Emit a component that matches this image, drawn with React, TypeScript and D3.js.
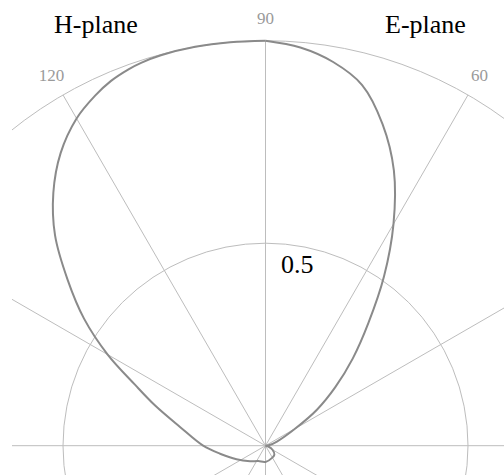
import React from "react";
import * as d3 from "d3";

// Normalised radiation pattern, polar angle in degrees (counter-clockwise from +x)
const ANGLES_E = [0, 10, 20, 30, 35, 40, 45, 50, 55, 60, 65, 70, 75, 80, 85, 90];
const GAIN_E = [0, 0.01, 0.03, 0.085, 0.155, 0.225, 0.305, 0.395, 0.51, 0.632, 0.75, 0.845, 0.922, 0.962, 0.987, 1.0];

const ANGLES_H = [90, 95, 100, 105, 108, 110, 113, 116, 120, 125, 130, 135, 140, 145, 150, 155, 160, 167.5, 180, 190, 205, 225, 245, 270, 300, 315, 330, 345, 360];
const GAIN_H = [1.0, 1.0, 1.0, 0.998, 0.994, 0.989, 0.978, 0.961, 0.933, 0.882, 0.815, 0.735, 0.638, 0.547, 0.45, 0.355, 0.29, 0.217, 0.154, 0.114, 0.079, 0.054, 0.042, 0.04, 0.034, 0.031, 0.02, 0.008, 0];

const RINGS = [0.5, 1.0];
const SPOKES = d3.range(0, 360, 30);
const SPOKE_LABELS = SPOKES.map((a) => String(a));

const W = 504;
const H = 475;
const CX = 265.5;
const CY = 445.7;
const R = 405;

const font = "'Liberation Serif', 'Times New Roman', serif";

export default function App() {
  const r = d3.scaleLinear().domain([0, 1]).range([0, R]);
  const toRad = (deg: number) => Math.PI / 2 - (deg * Math.PI) / 180;

  const radial = d3
    .lineRadial<[number, number]>()
    .angle((d) => toRad(d[0]))
    .radius((d) => r(d[1]))
    .curve(d3.curveCatmullRom.alpha(0.5));

  const ePath = radial(ANGLES_E.map((a, i) => [a, GAIN_E[i]]));
  const hPath = radial(ANGLES_H.map((a, i) => [a, GAIN_H[i]]));

  const polar = (deg: number, rad: number) => {
    const t = (deg * Math.PI) / 180;
    return [CX + rad * Math.cos(t), CY - rad * Math.sin(t)];
  };

  // angle labels that land inside the drawing area
  const labels = SPOKES.map((a, i) => {
    const [x, y] = polar(a, r(1) + 23);
    return { a, x, y, text: SPOKE_LABELS[i] };
  }).filter((l) => l.x > 20 && l.x < W - 20 && l.y > 10 && l.y < H - 10);

  return (
    <svg
      width={W}
      height={H}
      style={{ position: "fixed", left: 0, top: 0, background: "#fff" }}
    >
      <defs>
        <clipPath id="plotClip">
          <rect x={12} y={0} width={W - 12} height={H} />
        </clipPath>
      </defs>
      <g clipPath="url(#plotClip)">
        {RINGS.map((v) => (
          <circle key={v} cx={CX} cy={CY} r={r(v)} fill="none" stroke="#bdbdbd" strokeWidth={1} />
        ))}
        {SPOKES.map((a) => {
          const [x, y] = polar(a, r(1));
          return <line key={a} x1={CX} y1={CY} x2={x} y2={y} stroke="#bdbdbd" strokeWidth={1} />;
        })}
      </g>
      {labels.map((l) => (
        <text
          key={l.a}
          x={l.x}
          y={l.y}
          dy="0.35em"
          textAnchor="middle"
          fontFamily={font}
          fontSize={17}
          fill="#9a9a9a"
        >
          {l.text}
        </text>
      ))}
      <g transform={`translate(${CX},${CY})`}>
        <path d={hPath ?? ""} fill="none" stroke="#8a8a8a" strokeWidth={2} />
        <path d={ePath ?? ""} fill="none" stroke="#8a8a8a" strokeWidth={2} />
      </g>
      <text x={CX + 15.5} y={CY - r(0.5) + 30} fontFamily={font} fontSize={26} fill="#000">
        0.5
      </text>
      <text x={54} y={33} fontFamily={font} fontSize={26} fill="#000">
        H-plane
      </text>
      <text x={385} y={33} fontFamily={font} fontSize={26} fill="#000">
        E-plane
      </text>
    </svg>
  );
}
